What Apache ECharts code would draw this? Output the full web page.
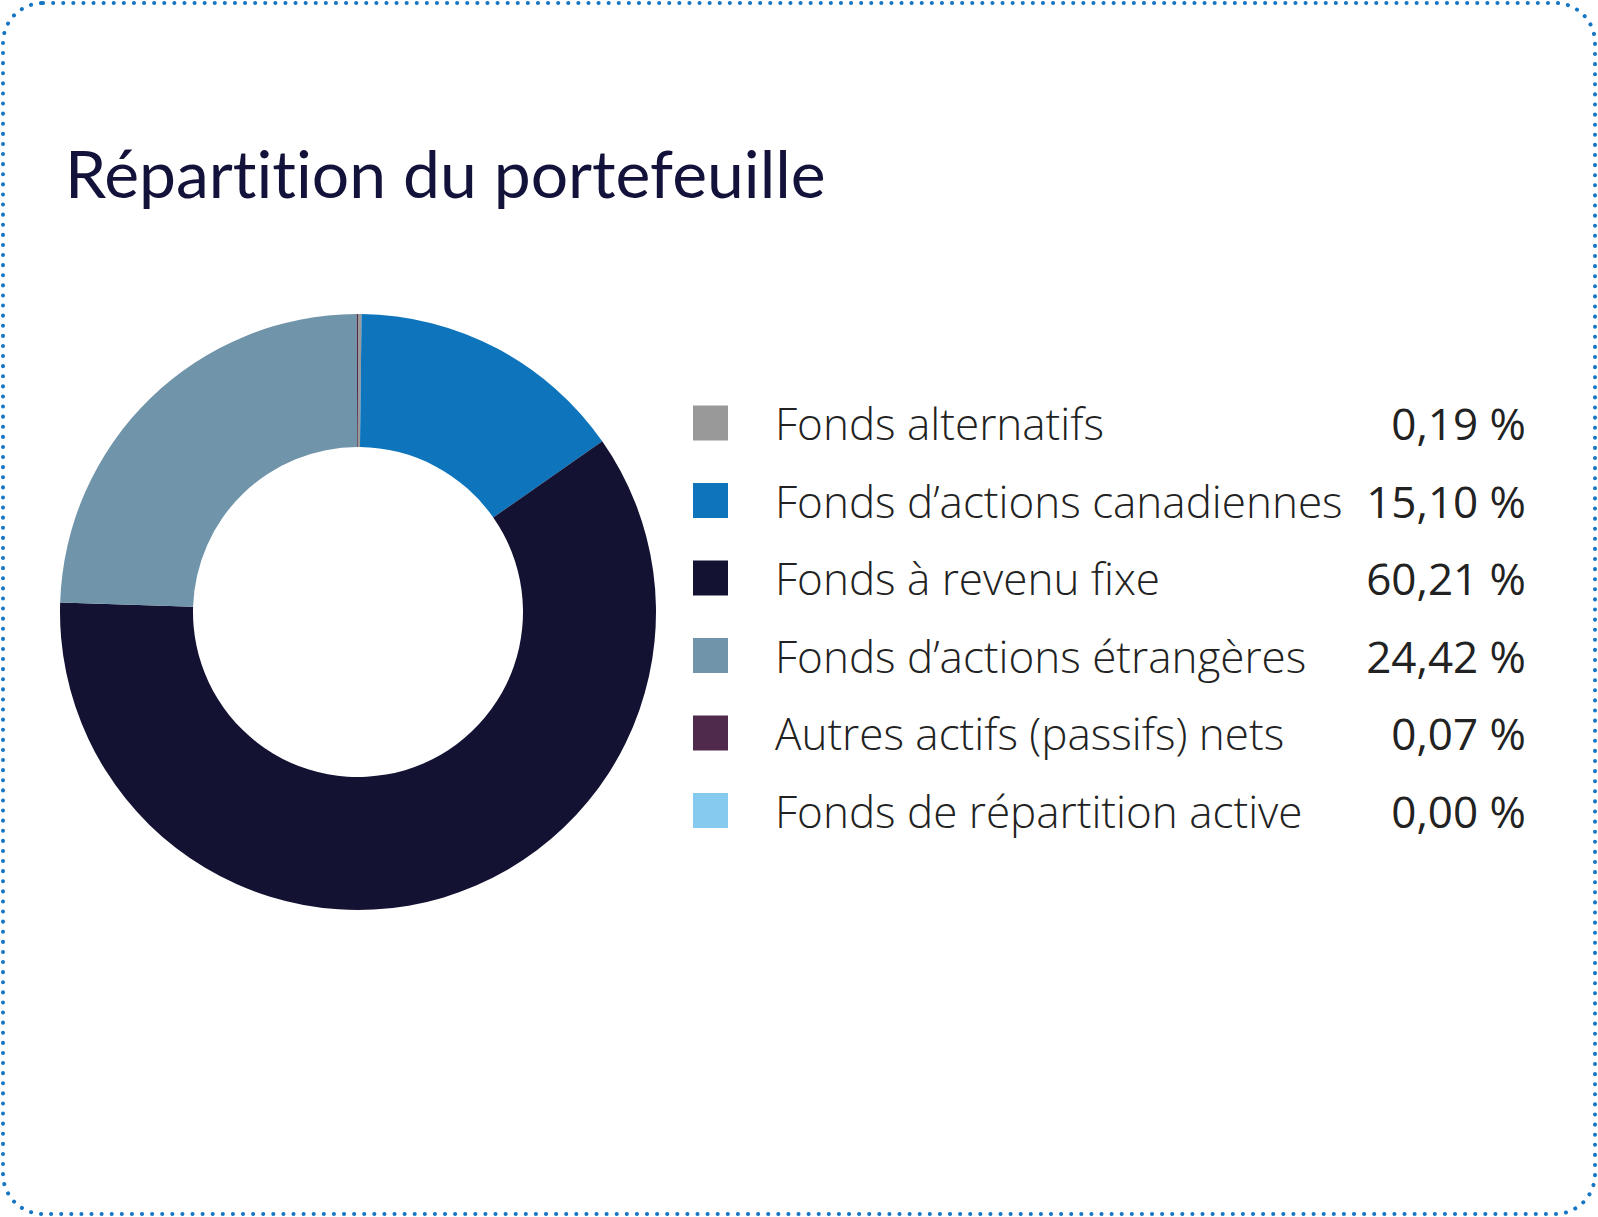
<!DOCTYPE html>
<html>
<head>
<meta charset="utf-8">
<script src="https://cdn.jsdelivr.net/npm/echarts@6/dist/echarts.min.js"></script>
<style>
  html, body { margin: 0; padding: 0; background: #fff; }
  #chart { width: 1598px; height: 1217px; }
  #chart text { font-variant-ligatures: none; }
</style>
</head>
<body>
<div id="chart"></div>
<script>
// portfolio breakdown (percent)
const categories = [
  "Fonds alternatifs",
  "Fonds d\u2019actions canadiennes",
  "Fonds à revenu fixe",
  "Fonds d\u2019actions étrangères",
  "Autres actifs (passifs) nets",
  "Fonds de répartition active"
];
const values = [0.19, 15.10, 60.21, 24.42, 0.07, 0.00];
const valueLabels = ["0,19 %", "15,10 %", "60,21 %", "24,42 %", "0,07 %", "0,00 %"];
const colors = ["#999999", "#0e75bd", "#131233", "#7094aa", "#4f2a4c", "#86caf0"];

const chart = echarts.init(document.getElementById("chart"), null, { renderer: "svg" });

const labelFor = {};
categories.forEach((c, i) => { labelFor[c] = valueLabels[i]; });

const option = {
  animation: false,
  color: colors,
  title: {
    text: "Répartition du portefeuille",
    left: 60,
    top: 134,
    textStyle: {
      fontFamily: "Lato",
      fontWeight: 400,
      fontSize: 66,
      color: "#13123a"
    }
  },
  legend: {
    orient: "vertical",
    left: 693,
    top: 401,
    padding: 0,
    itemWidth: 35,
    itemHeight: 35,
    itemGap: 33.5,
    icon: "rect",
    selectedMode: false,
    formatter: (name) => `{name|${name}}{val|${labelFor[name]}}`,
    textStyle: {
      padding: [0, 0, 0, 42],
      rich: {
        name: {
          fontFamily: "Open Sans",
          fontWeight: 300,
          fontSize: 44,
          color: "#222222",
          width: 560
        },
        val: {
          fontFamily: "Open Sans",
          fontWeight: 400,
          fontSize: 44,
          color: "#222222",
          width: 191,
          align: "right"
        }
      }
    }
  },
  graphic: [{
    type: "rect",
    silent: true,
    shape: { x: 3, y: 3, width: 1592, height: 1211, r: 40 },
    style: {
      fill: "none",
      stroke: "#1676c3",
      lineWidth: 4,
      lineDash: [0.1, 10],
      lineCap: "round"
    }
  }],
  series: [{
    type: "pie",
    center: [358, 612],
    radius: [165, 298],
    startAngle: 90,
    clockwise: true,
    avoidLabelOverlap: false,
    label: { show: false },
    labelLine: { show: false },
    emphasis: { disabled: true },
    itemStyle: { borderWidth: 0 },
    data: categories.map((c, i) => ({ name: c, value: values[i] }))
  }]
};

chart.setOption(option);
</script>
</body>
</html>
